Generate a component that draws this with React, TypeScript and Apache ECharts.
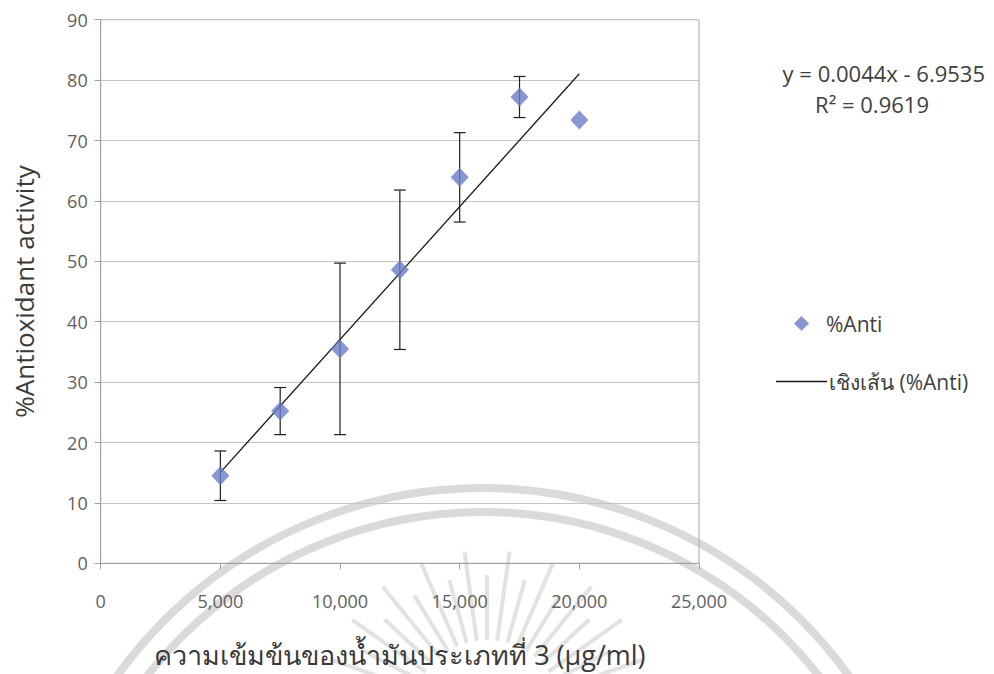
import React, { useEffect, useRef } from "react";
import * as echarts from "echarts";

// Concentration of oil type 3 (µg/ml) and measured % antioxidant activity
const concentrations = [5000, 7500, 10000, 12500, 15000, 17500, 20000];
const antiMean = [14.5, 25.2, 35.5, 48.6, 63.9, 77.2, 73.4];
const antiSd = [4.1, 3.9, 14.2, 13.2, 7.4, 3.4, 0];

// Linear trend line coefficients
const trendSlope = 0.0044;
const trendIntercept = -6.9535;
const trendR2 = 0.9619;

const yTicks = [0, 10, 20, 30, 40, 50, 60, 70, 80, 90];
const xTicks = [0, 5000, 10000, 15000, 20000, 25000];

const seriesName = "%Anti";
const trendName = "เชิงเส้น (%Anti)";

const FONT = "'Open Sans', 'Noto Sans', sans-serif";

function buildWatermark(): any[] {
  const cx = 483;
  const cy = 938;
  const els: any[] = [];
  [450, 426].forEach((r) => {
    els.push({
      type: "arc",
      silent: true,
      z: -10,
      shape: { cx, cy, r, startAngle: Math.PI, endAngle: Math.PI * 2, clockwise: true },
      style: { stroke: "#dadada", lineWidth: 8, fill: null },
    });
  });
  // sun rays of the seal
  const rcx = 487;
  const rcy = 715;
  const n = 22;
  for (let i = 0; i <= n; i++) {
    const a = Math.PI + (Math.PI * (i + 0.5)) / (n + 1);
    const r0 = 75;
    const r1 = i % 2 === 0 ? 165 : 140;
    els.push({
      type: "line",
      silent: true,
      z: -10,
      shape: {
        x1: rcx + r0 * Math.cos(a),
        y1: rcy + r0 * Math.sin(a),
        x2: rcx + r1 * Math.cos(a),
        y2: rcy + r1 * Math.sin(a),
      },
      style: { stroke: "#e2e2e2", lineWidth: 4 },
    });
  }
  return els;
}

export default function App() {
  const ref = useRef<HTMLDivElement>(null);

  useEffect(() => {
    if (!ref.current) return;
    const chart = echarts.init(ref.current, undefined, { renderer: "svg" });

    const points = concentrations.map((c, i) => [c, antiMean[i]]);
    const errors = concentrations.map((c, i) => [c, antiMean[i] - antiSd[i], antiMean[i] + antiSd[i]]);
    const xMin = Math.min(...concentrations);
    const xMax = Math.max(...concentrations);
    const trend = [
      [xMin, trendSlope * xMin + trendIntercept],
      [xMax, trendSlope * xMax + trendIntercept],
    ];

    chart.setOption({
      animation: false,
      backgroundColor: "#ffffff",
      textStyle: { fontFamily: FONT },
      grid: { left: 100.7, right: 295, top: 19.7, bottom: 110.7, show: true, borderColor: "#a6a6a6", borderWidth: 1 },
      xAxis: {
        type: "value",
        min: xTicks[0],
        max: xTicks[xTicks.length - 1],
        interval: 5000,
        name: "ความเข้มข้นของน้ำมันประเภทที่ 3 (µg/ml)",
        nameLocation: "middle",
        nameGap: 78,
        nameTextStyle: { fontSize: 27, color: "#3a3a3a", fontFamily: FONT },
        axisLine: { show: true, onZero: false, lineStyle: { color: "#a0a0a0", width: 1 } },
        axisTick: { show: true, inside: false, length: 6, lineStyle: { color: "#a0a0a0" } },
        axisLabel: {
          margin: 29,
          fontSize: 18,
          color: "#606060",
          fontFamily: FONT,
          formatter: (v: number) => v.toLocaleString("en-US"),
        },
        splitLine: { show: false },
      },
      yAxis: {
        type: "value",
        min: yTicks[0],
        max: yTicks[yTicks.length - 1],
        interval: 10,
        name: "%Antioxidant activity",
        nameLocation: "middle",
        nameGap: 64,
        nameTextStyle: { fontSize: 26, color: "#3a3a3a", fontFamily: FONT },
        axisLine: { show: true, lineStyle: { color: "#a0a0a0", width: 1 } },
        axisTick: { show: true, inside: false, length: 6, lineStyle: { color: "#a0a0a0" } },
        axisLabel: { margin: 13, fontSize: 18, color: "#606060", fontFamily: FONT },
        splitLine: { show: true, lineStyle: { color: "#c4c4c4", width: 1 } },
      },
      legend: [
        {
          data: [{ name: seriesName, icon: "diamond" }],
          left: 789,
          top: 308,
          itemWidth: 15,
          itemHeight: 15,
          itemGap: 14,
          textStyle: { fontSize: 21, color: "#404040", fontFamily: FONT, padding: [0, 0, 0, 12] },
          selectedMode: false,
        },
        {
          data: [{ name: trendName, icon: "rect" }],
          left: 771,
          top: 366,
          itemWidth: 51,
          itemHeight: 1.5,
          itemGap: 0,
          textStyle: { fontSize: 21, color: "#404040", fontFamily: FONT, padding: [0, 0, 0, -3] },
          selectedMode: false,
        },
      ],
      graphic: [
        ...buildWatermark(),
        {
          type: "text",
          right: 9,
          top: 62,
          style: {
            text: `y = ${trendSlope}x - ${Math.abs(trendIntercept)}`,
            fontSize: 22,
            fill: "#404040",
            fontFamily: FONT,
          },
        },
        {
          type: "text",
          x: 872,
          y: 104,
          style: {
            text: `R² = ${trendR2}`,
            fontSize: 22,
            fill: "#404040",
            fontFamily: FONT,
            align: "center",
            verticalAlign: "middle",
          },
        },
      ],
      series: [
        {
          name: "errorbars",
          type: "custom",
          z: 3,
          silent: true,
          data: errors,
          renderItem: (params: any, api: any) => {
            const x = api.value(0);
            const lo = api.value(1);
            const hi = api.value(2);
            if (hi - lo <= 0) return null;
            const pLo = api.coord([x, lo]);
            const pHi = api.coord([x, hi]);
            const half = 6;
            const style = { stroke: "#1e1e1e", lineWidth: 1.2 };
            return {
              type: "group",
              children: [
                { type: "line", shape: { x1: pLo[0], y1: pLo[1], x2: pHi[0], y2: pHi[1] }, style },
                { type: "line", shape: { x1: pHi[0] - half, y1: pHi[1], x2: pHi[0] + half, y2: pHi[1] }, style },
                { type: "line", shape: { x1: pLo[0] - half, y1: pLo[1], x2: pLo[0] + half, y2: pLo[1] }, style },
              ],
            };
          },
        },
        {
          name: trendName,
          type: "line",
          z: 4,
          data: trend,
          showSymbol: false,
          symbol: "none",
          lineStyle: { color: "#1a1a1a", width: 1.3 },
          itemStyle: { color: "#1a1a1a" },
        },
        {
          name: seriesName,
          type: "scatter",
          z: 5,
          data: points,
          symbol: "diamond",
          symbolSize: [18, 19],
          itemStyle: { color: "#6a7cc6" },
        },
      ],
    });

    return () => chart.dispose();
  }, []);

  return (
    <div
      ref={ref}
      style={{ position: "fixed", left: 0, top: 0, width: 994, height: 674, background: "#fff" }}
    />
  );
}
